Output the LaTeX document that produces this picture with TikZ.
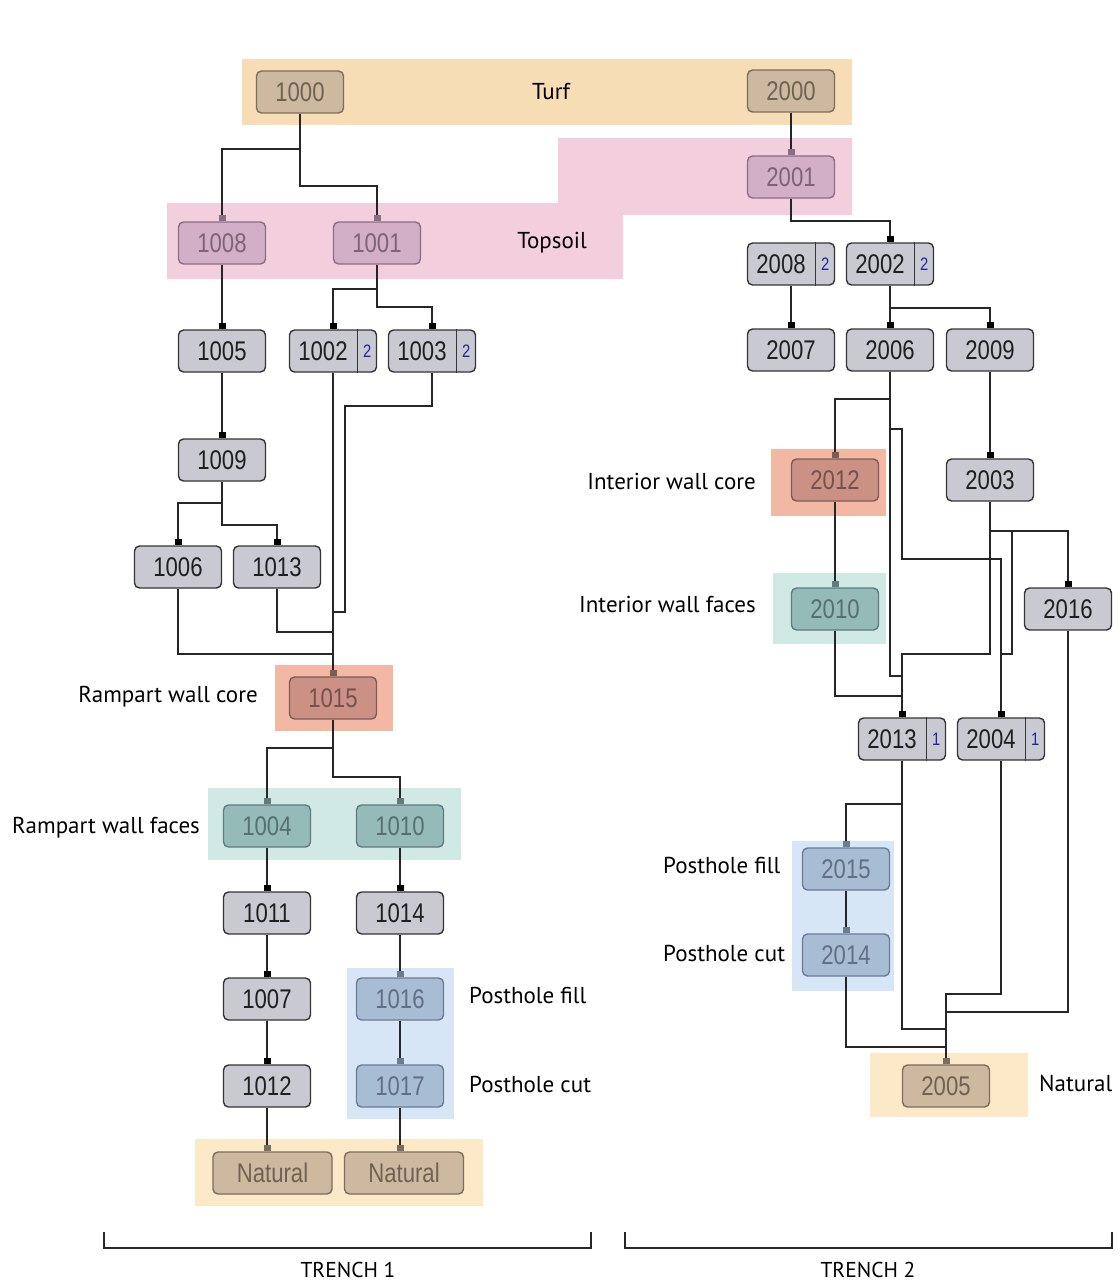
\documentclass[tikz,border=0pt]{standalone}
\usepackage{fontspec}
\setmainfont{PT Sans}
\newfontfamily\numfont[FakeStretch=0.82]{Liberation Sans}
\definecolor{bgTurf}{HTML}{F7DDB6}
\definecolor{bgNat}{HTML}{FBE9C8}
\definecolor{bgTop}{HTML}{F3CFDE}
\definecolor{bgRed}{HTML}{F3B8A4}
\definecolor{bgCyan}{HTML}{D0E9E4}
\definecolor{bgBlue}{HTML}{D6E6F6}
\definecolor{fGray}{HTML}{C9C9D2}
\definecolor{dGray}{HTML}{353535}
\definecolor{fTan}{HTML}{CDB9A0}
\definecolor{dTan}{HTML}{7D6D5C}
\definecolor{fMau}{HTML}{D2AFC6}
\definecolor{dMau}{HTML}{8C6E82}
\definecolor{fRed}{HTML}{CC9185}
\definecolor{dRed}{HTML}{7E5C56}
\definecolor{fTeal}{HTML}{95BBB9}
\definecolor{dTeal}{HTML}{5E7C7C}
\definecolor{fBlue}{HTML}{A8BCD4}
\definecolor{dBlue}{HTML}{6C7C92}
\definecolor{badgeblue}{HTML}{2222A0}
\tikzset{
  box/.style={rectangle, rounded corners=5pt, line width=1.4pt, minimum width=87pt,
    minimum height=42pt, inner sep=0pt, font=\numfont\fontsize{27}{27}\selectfont},
  graybox/.style={box, fill=fGray, draw=dGray, text=black!88},
  tanbox/.style={box, fill=fTan, draw=dTan, text=dTan!90!black},
  mauvebox/.style={box, fill=fMau, draw=dMau, text=dMau!90!black},
  redbox/.style={box, fill=fRed, draw=dRed, text=dRed!90!black},
  tealbox/.style={box, fill=fTeal, draw=dTeal, text=dTeal!90!black},
  bluebox/.style={box, fill=fBlue, draw=dBlue, text=dBlue!90!black},
  numtxt/.style={inner sep=0pt, text=black!88, font=\numfont\fontsize{27}{27}\selectfont},
  badge/.style={inner sep=0pt, text=badgeblue, font=\numfont\fontsize{18}{18}\selectfont},
  lab/.style={inner sep=0pt, text=black, font=\fontsize{23}{23}\selectfont},
  trlab/.style={inner sep=0pt, text=black, font=\fontsize{21.5}{22}\selectfont},
  conn/.style={line width=1.8pt, draw=black!85},
}
\newcommand\bnode[5]{%
  \node[graybox] (#1) at (#2,#3) {};
  \node[numtxt] (#1t) at ([xshift=-10pt]#1.center) {#4};
  \draw[line width=1.4pt, draw=dGray] ([xshift=-20pt]#1.north east) -- ([xshift=-20pt]#1.south east);
  \node[badge] (#1b) at ([xshift=-10pt]#1.east) {#5};}
\newcommand\mk[2][black]{\fill[#1] (#2) ++(-3.5,0) rectangle ++(7,-6);}
\newcommand\el[3]{\draw[conn] (#1.south) -- (#1.south |- 0,#3) -| (#2.north);}
\newcommand\st[2]{\draw[conn] (#1.south) -- (#1.south |- #2.north);}
\begin{document}
\begin{tikzpicture}[x=1pt,y=-1pt]
\useasboundingbox (0,0) rectangle (1119,1284);
\fill[white] (0,0) rectangle (1119,1284);
% bands
\fill[bgTurf] (242,59) rectangle (852,125);
\fill[bgTop] (167,203) -- (558,203) -- (558,138) -- (852,138) -- (852,215) -- (623,215) -- (623,279) -- (167,279) -- cycle;
\fill[bgRed] (275,665) rectangle (393,731);
\fill[bgCyan] (208,788) rectangle (461,860);
\fill[bgBlue] (347,968) rectangle (454,1119);
\fill[bgNat] (195,1139) rectangle (483,1206);
\fill[bgRed] (771,449) rectangle (886,516);
\fill[bgCyan] (773,573) rectangle (886,644);
\fill[bgBlue] (792,841) rectangle (894,991);
\fill[bgNat] (870,1053) rectangle (1028,1117);
% labels
\node[lab] (lTurf) at (551,92) {Turf};
\node[lab] (lTop) at (552,243) {Topsoil};
\node[lab, anchor=mid east] (lRC) at (258,700) {Rampart wall core};
\node[lab, anchor=mid west] (lRF) at (12,831) {Rampart wall faces};
\node[lab, anchor=mid west] (lPF1) at (469,1001) {Posthole fill};
\node[lab, anchor=mid west] (lPC1) at (469,1090) {Posthole cut};
\node[lab, anchor=mid east] (lIC) at (756,487) {Interior wall core};
\node[lab, anchor=mid east] (lIF) at (756,610) {Interior wall faces};
\node[lab, anchor=mid west] (lPF2) at (663,871) {Posthole fill};
\node[lab, anchor=mid west] (lPC2) at (663,959) {Posthole cut};
\node[lab, anchor=mid west] (lNat) at (1039,1089) {Natural};
% nodes
\node[tanbox] (n1000) at (300,92) {1000};
\node[tanbox] (n2000) at (791,91) {2000};
\node[mauvebox] (n2001) at (791,177) {2001};
\node[mauvebox] (n1008) at (222,243) {1008};
\node[mauvebox] (n1001) at (377,243) {1001};
\bnode{n2008}{791}{264}{2008}{2}
\bnode{n2002}{890}{264}{2002}{2}
\node[graybox] (n1005) at (222,351) {1005};
\bnode{n1002}{333}{351}{1002}{2}
\bnode{n1003}{432}{351}{1003}{2}
\node[graybox] (n2007) at (791,350) {2007};
\node[graybox] (n2006) at (890,350) {2006};
\node[graybox] (n2009) at (990,350) {2009};
\node[graybox] (n1009) at (222,460) {1009};
\node[redbox] (n2012) at (835,480) {2012};
\node[graybox] (n2003) at (990,480) {2003};
\node[graybox] (n1006) at (178,567) {1006};
\node[graybox] (n1013) at (277,567) {1013};
\node[tealbox] (n2010) at (835,609) {2010};
\node[graybox] (n2016) at (1068,609) {2016};
\node[redbox] (n1015) at (333,698) {1015};
\bnode{n2013}{902}{739}{2013}{1}
\bnode{n2004}{1001}{739}{2004}{1}
\node[tealbox] (n1004) at (267,826) {1004};
\node[tealbox] (n1010) at (400,826) {1010};
\node[bluebox] (n2015) at (846,869) {2015};
\node[graybox] (n1011) at (267,913) {1011};
\node[graybox] (n1014) at (400,913) {1014};
\node[bluebox] (n2014) at (846,955) {2014};
\node[graybox] (n1007) at (267,999) {1007};
\node[bluebox] (n1016) at (400,999) {1016};
\node[graybox] (n1012) at (267,1086) {1012};
\node[bluebox] (n1017) at (400,1086) {1017};
\node[tanbox] (n2005) at (946,1086) {2005};
\node[tanbox, minimum width=119pt] (nNatL) at (272.5,1173) {Natural};
\node[tanbox, minimum width=119pt] (nNatR) at (404,1173) {Natural};
% connectors trench 1
\el{n1000}{n1008}{149}
\el{n1000}{n1001}{186}
\st{n1008}{n1005}
\el{n1001}{n1002}{289}
\el{n1001}{n1003}{307}
\st{n1005}{n1009}
\el{n1009}{n1006}{503}
\el{n1009}{n1013}{525}
\st{n1002}{n1015}
\draw[conn] (n1003.south) -- (n1003.south |- 0,406) -- (345,406) -- (345,612) -| (n1015.north);
\el{n1006}{n1015}{654}
\el{n1013}{n1015}{632}
\el{n1015}{n1004}{748}
\el{n1015}{n1010}{777}
\st{n1004}{n1011}
\st{n1011}{n1007}
\st{n1007}{n1012}
\st{n1012}{nNatL}
\st{n1010}{n1014}
\st{n1014}{n1016}
\st{n1016}{n1017}
\st{n1017}{nNatR}
% connectors trench 2
\st{n2000}{n2001}
\el{n2001}{n2002}{221}
\st{n2008}{n2007}
\st{n2002}{n2006}
\el{n2002}{n2009}{308}
\el{n2006}{n2012}{399}
\draw[conn] (n2006.south) -- (n2006.south |- 0,429) -- (902,429) -- (902,559) -| (n2004.north);
\el{n2006}{n2013}{676}
\st{n2009}{n2003}
\el{n2003}{n2016}{531}
\el{n2003}{n2013}{654}
\draw[conn] (n2003.south |- 0,531) -- (1012,531) -- (1012,654) -| (n2004.north);
\st{n2012}{n2010}
\el{n2010}{n2013}{696}
\el{n2013}{n2015}{804}
\el{n2013}{n2005}{1029}
\el{n2004}{n2005}{994}
\el{n2016}{n2005}{1012}
\st{n2015}{n2014}
\el{n2014}{n2005}{1047}
% markers
\mk[dMau]{n1008.north} \mk[dMau]{n1001.north} \mk[dMau]{n2001.north}
\mk{n2002.north} \mk{n1005.north} \mk{n1002.north} \mk{n1003.north}
\mk{n2007.north} \mk{n2006.north} \mk{n2009.north} \mk{n1009.north}
\mk{n1006.north} \mk{n1013.north} \mk[dRed]{n1015.north}
\mk[dTeal]{n1004.north} \mk[dTeal]{n1010.north} \mk{n1011.north} \mk{n1014.north}
\mk{n1007.north} \mk[dBlue]{n1016.north} \mk{n1012.north} \mk[dBlue]{n1017.north}
\mk[dTan]{n1012.south |- nNatL.north} \mk[dTan]{n1017.south |- nNatR.north}
\mk[dRed]{n2012.north} \mk{n2004.north} \mk{n2013.north} \mk{n2003.north}
\mk{n2016.north} \mk[dTeal]{n2010.north} \mk[dBlue]{n2015.north} \mk[dBlue]{n2014.north}
\mk[dTan]{n2005.north}
% trench brackets
\coordinate (t1a) at (104,1232); \coordinate (t1b) at (591,1232);
\coordinate (t2a) at (625,1232); \coordinate (t2b) at (1112,1232);
\draw[line width=1.6pt, draw=black!85] (t1a) -- ++(0,16) -| (t1b);
\draw[line width=1.6pt, draw=black!85] (t2a) -- ++(0,16) -| (t2b);
\node[trlab] (tr1) at (348,1270) {TRENCH 1};
\node[trlab] (tr2) at (868,1270) {TRENCH 2};
\end{tikzpicture}
\end{document}
